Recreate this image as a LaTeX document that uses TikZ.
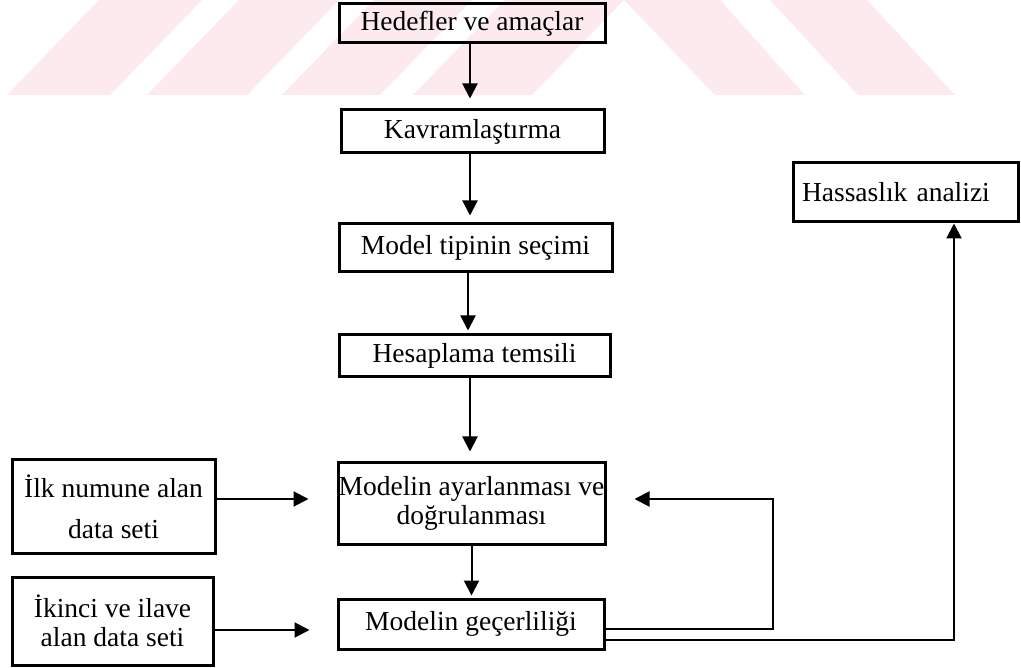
\documentclass[tikz,border=0pt]{standalone}
\usepackage{fontspec}
\setmainfont{Liberation Serif}
\usetikzlibrary{arrows.meta}
\definecolor{wm}{RGB}{252,234,238}
\begin{document}
\begin{tikzpicture}[x=1pt,y=-1pt,
  box/.style={draw=black, line width=3pt, inner sep=0pt, align=center,
    font=\fontsize{27.5}{29}\selectfont},
  conn/.style={line width=2pt, -{Triangle[length=15pt,width=15pt]}},
  band/.style={fill=wm, draw=none}]
\useasboundingbox (0,0) rectangle (1021,668);
% watermark bands
\fill[band] (7,95) -- (99,0) -- (202,0) -- (110,95) -- cycle;
\fill[band] (147,95) -- (239,0) -- (339,0) -- (247,95) -- cycle;
\fill[band] (282,95) -- (374,0) -- (472,0) -- (380,95) -- cycle;
\fill[band] (413,95) -- (505,0) -- (624,0) -- (532,95) -- cycle;
\fill[band] (624,0) -- (720,0) -- (805,95) -- (715,95) -- cycle;
\fill[band] (770,0) -- (867,0) -- (955,95) -- (858,95) -- cycle;
% nodes
\node[box, minimum width=266pt, minimum height=39pt] (hed) at (472,23.5) {Hedefler ve amaçlar};
\node[box, minimum width=263pt, minimum height=43pt] (kav) at (472.5,131.5) {Kavramlaştırma};
\node[box, minimum width=273pt, minimum height=48pt] (tip) at (475.5,248) {Model tipinin seçimi};
\node[box, minimum width=271pt, minimum height=42pt] (hes) at (474.5,356) {Hesaplama temsili};
\node[box, minimum width=267pt, minimum height=81pt] (aya) at (471.5,503.5) {Modelin ayarlanması ve\\doğrulanması};
\node[box, minimum width=266pt, minimum height=50pt] (gec) at (471,624) {Modelin geçerliliği};
\node[box, minimum width=203pt, minimum height=93pt] (ilk) at (113.5,506.5) {İlk numune alan\\[12pt]data seti};
\node[box, minimum width=201pt, minimum height=88pt] (iki) at (112.5,621) {İkinci ve ilave\\alan data seti};
\node[box, minimum height=59pt, text width=207pt, inner xsep=9pt, align=left] (has) at (905.5,192.5) {Hassaslık analizi};
% coordinates for bends
\coordinate (fbc) at (773,499);
\coordinate (hsc) at (954,640);
% vertical flow
\draw[conn, shorten >=10pt] ([xshift=-2pt]hed.south) -- ([xshift=-2pt]hed.south |- kav.north);
\draw[conn, shorten >=7pt] ([xshift=-2.5pt]kav.south) -- ([xshift=-2.5pt]kav.south |- tip.north);
\draw[conn, shorten >=3pt] ([xshift=-7.5pt]tip.south) -- ([xshift=-7.5pt]tip.south |- hes.north);
\draw[conn, shorten >=10pt] ([xshift=-4.5pt]hes.south) -- ([xshift=-4.5pt]hes.south |- aya.north);
\draw[conn, shorten >=2pt] (aya.south) -- (aya.south |- gec.north);
% inputs
\draw[conn, shorten >=28pt] ([yshift=7.5pt]ilk.east) coordinate (p1) -- (p1 -| aya.west);
\draw[conn, shorten >=27pt] ([yshift=-9pt]iki.east) coordinate (p2) -- (p2 -| gec.west);
% feedback
\draw[conn, shorten >=28pt] ([yshift=-5pt]gec.east) -| (fbc) -- (fbc -| aya.east);
% to sensitivity analysis
\draw[conn] ([yshift=-16pt]gec.east) -- (hsc) -- (hsc |- has.south);
\end{tikzpicture}
\end{document}
